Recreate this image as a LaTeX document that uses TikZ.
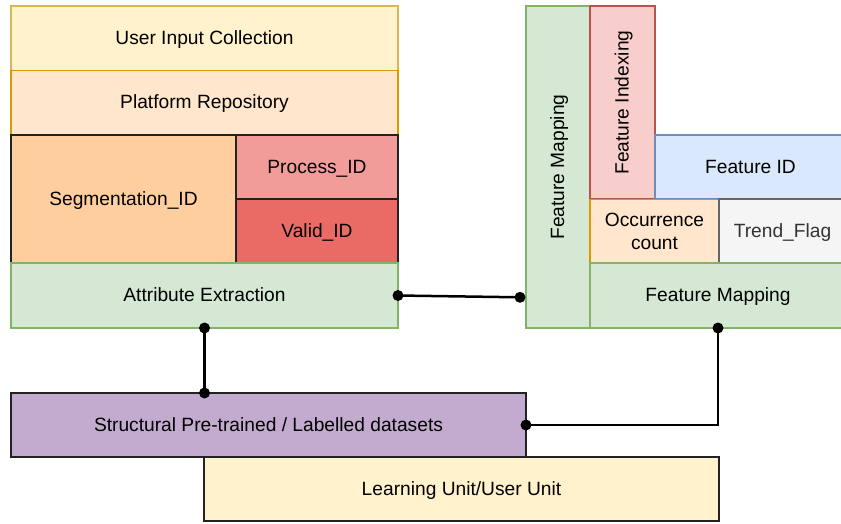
\documentclass[tikz,border=0pt]{standalone}
\usepackage{fontspec}
\setmainfont{Liberation Sans}
\usetikzlibrary{calc}
\definecolor{yelF}{HTML}{FFF2CC}\definecolor{yelD}{HTML}{D6B656}
\definecolor{orF}{HTML}{FFE6CC}\definecolor{orD}{HTML}{D79B00}
\definecolor{segF}{HTML}{FFCE9F}
\definecolor{procF}{HTML}{F19C99}
\definecolor{valF}{HTML}{EA6B66}
\definecolor{grF}{HTML}{D5E8D4}\definecolor{grD}{HTML}{82B366}
\definecolor{rdF}{HTML}{F8CECC}\definecolor{rdD}{HTML}{B85450}
\definecolor{blF}{HTML}{DAE8FC}\definecolor{blD}{HTML}{6C8EBF}
\definecolor{gyF}{HTML}{F5F5F5}\definecolor{gyD}{HTML}{666666}\definecolor{gyT}{HTML}{333333}
\definecolor{puF}{HTML}{C3ABD0}
\definecolor{dk}{HTML}{222222}
\tikzset{
  basebox/.style={draw, rectangle, line width=1.3pt, inner sep=0pt, outer sep=0pt,
    align=center, font=\fontsize{19.2}{23}\selectfont},
  box/.style={basebox, text height=14pt, text depth=2pt},
  yel/.style={box, fill=yelF, draw=yelD},
  ora/.style={box, fill=orF, draw=orD},
  grn/.style={box, fill=grF, draw=grD},
  dkbox/.style={box, draw=dk},
  conn/.style={line width=2.5pt, black},
  dot/.style={fill=black}
}
\begin{document}
\begin{tikzpicture}[x=1pt,y=-1pt]
\useasboundingbox (0,0) rectangle (841,523);
\clip (0,0) rectangle (841,523);
% left stack
\node[yel, minimum width=387, minimum height=64.5] (uic) at (204.5,38.25) {User Input Collection};
\node[ora, minimum width=387, minimum height=64.5] (pr) at (204.5,102.75) {Platform Repository};
\node[dkbox, fill=segF, minimum width=225, minimum height=128] (seg) at (123.5,199) {Segmentation\_ID};
\node[dkbox, fill=procF, minimum width=162, minimum height=64] (proc) at (317,167) {Process\_ID};
\node[dkbox, fill=valF, minimum width=162, minimum height=64] (valid) at (317,231) {Valid\_ID};
\node[grn, minimum width=387, minimum height=65] (ae) at (204.5,295.5) {Attribute Extraction};
% right stack
\node[grn, rotate=90, minimum width=322, minimum height=64] (fmv) at (558,167) {Feature Mapping};
\node[box, fill=rdF, draw=rdD, rotate=90, minimum width=193, minimum height=65] (fidx) at (622.5,102.5) {Feature Indexing};
\node[box, fill=blF, draw=blD, minimum width=191, minimum height=64] (fid) at (750.5,167) {Feature ID};
\node[basebox, fill=orF, draw=orD, minimum width=129, minimum height=64] (occ) at (654.5,231.5) {Occurrence\\count};
\node[box, fill=gyF, draw=gyD, text=gyT, minimum width=127, minimum height=64] (trend) at (782.5,231) {Trend\_Flag};
\node[grn, minimum width=256, minimum height=65] (fmh) at (718,295.5) {Feature Mapping};
% bottom
\node[dkbox, fill=puF, minimum width=515, minimum height=64] (spl) at (268.5,425) {Structural Pre-trained / Labelled datasets};
\node[dkbox, fill=yelF, minimum width=515, minimum height=64] (lu) at (461.5,489) {Learning Unit/User Unit};
% connectors
\coordinate (fmvin) at (520,297.3);
\draw[conn] (ae.east) -- (fmvin);
\fill[dot] (ae.east) circle[radius=5.5pt];
\fill[dot] (fmvin) circle[radius=5.5pt];
\coordinate (splin) at (ae.south |- spl.north);
\draw[conn] (ae.south) -- (splin);
\fill[dot] (ae.south) circle[radius=5.5pt];
\fill[dot] (splin) circle[radius=5.5pt];
\draw[conn] (fmh.south) |- (spl.east);
\fill[dot] (fmh.south) circle[radius=5.5pt];
\fill[dot] (spl.east) circle[radius=5.5pt];
\end{tikzpicture}
\end{document}
